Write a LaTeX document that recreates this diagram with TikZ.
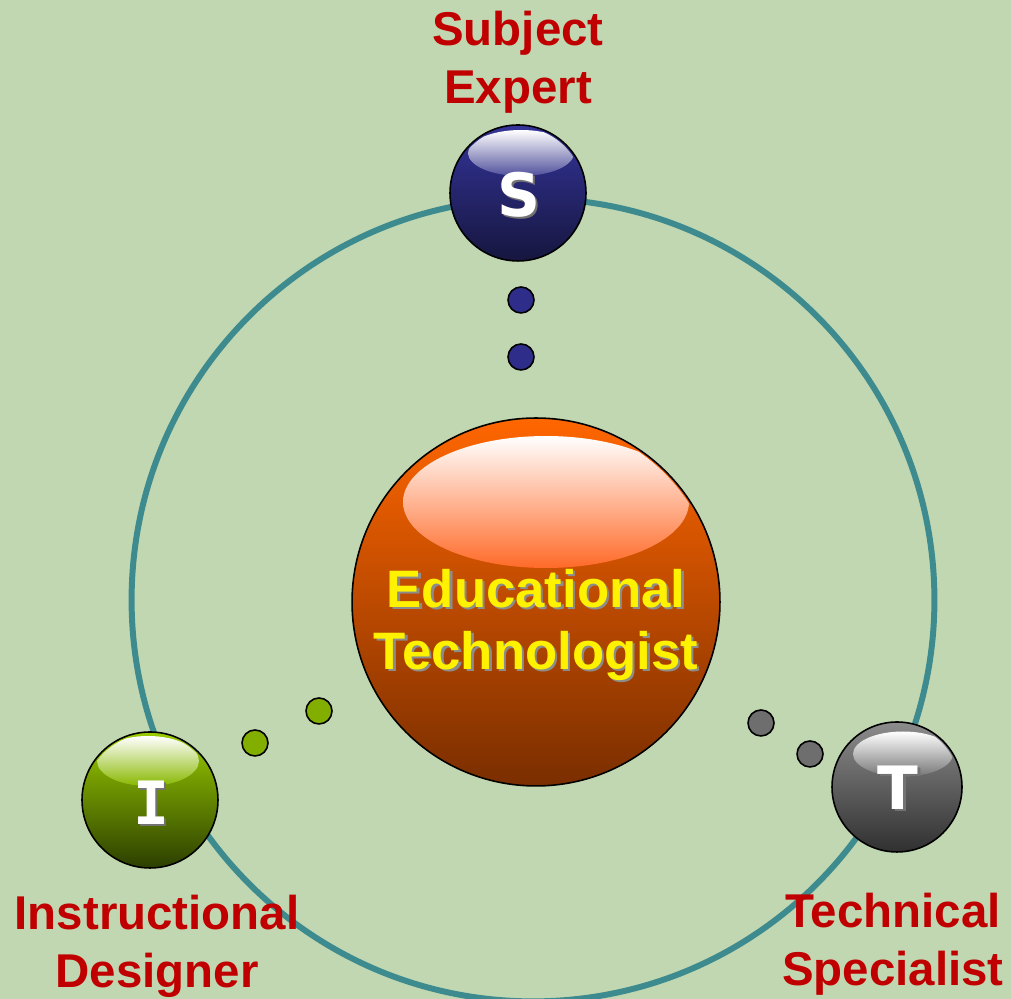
\documentclass[tikz,border=0pt]{standalone}
\usepackage{fontspec}
\setmainfont{Liberation Sans}
\newfontfamily\dvsans{DejaVu Sans}
\newfontfamily\dvmono{DejaVu Sans Mono}
\definecolor{bgcol}{HTML}{C1D7B1}
\definecolor{ringcol}{HTML}{3D8B8F}
\definecolor{labred}{HTML}{C00000}
\definecolor{etop}{HTML}{FF6600}
\definecolor{ebot}{HTML}{7A2E00}
\definecolor{ehlm}{HTML}{FFA888}
\definecolor{ehl}{HTML}{FF6A28}
\definecolor{stop}{HTML}{34349A}
\definecolor{sbot}{HTML}{16163F}
\definecolor{shlm}{HTML}{9A9AC8}
\definecolor{shl}{HTML}{50509C}
\definecolor{itop}{HTML}{9ACC00}
\definecolor{ibot}{HTML}{2C3F00}
\definecolor{ihlm}{HTML}{B8DA60}
\definecolor{ihl}{HTML}{88B800}
\definecolor{ttop}{HTML}{8C8C8C}
\definecolor{tbot}{HTML}{303030}
\definecolor{thlm}{HTML}{A8A8A8}
\definecolor{thl}{HTML}{767676}
\definecolor{sdot}{HTML}{2E2E8A}
\definecolor{idot}{HTML}{82AE00}
\definecolor{tdot}{HTML}{6E6E6E}
\newcommand{\shtxt}[2]{\makebox[0pt][l]{\kern1.4pt\raisebox{-1.4pt}{\textcolor{#2}{#1}}}#1}
\tikzset{
  sphere/.style n args={3}{circle, draw=black, line width=0.9pt, inner sep=0pt,
    minimum size=#3, top color=#1, bottom color=#2},
  hilite/.style 2 args={top color=white, middle color=#1, bottom color=#2},
  dotball/.style={circle, draw=black, line width=0.9pt, inner sep=0pt, minimum size=0.52cm, fill=#1},
  lab/.style={text=labred, align=center, font=\fontsize{27}{33}\selectfont\bfseries},
  letter/.style={text=white, inner sep=0pt, font=\fontsize{34}{40}\selectfont\bfseries},
}
\begin{document}
\begin{tikzpicture}[x=0.02cm, y=0.02cm]
\useasboundingbox (0,0) rectangle (1011,999);
\fill[bgcol] (0,0) rectangle (1011,999);
\begin{scope}
\clip (0,0) rectangle (1011,999);
\draw[ringcol, line width=3.4pt] (533,399) circle [radius=8.03cm];
\end{scope}
% central sphere
\node[sphere={etop}{ebot}{7.36cm}] (E) at (536,397) {};
\begin{scope}
\clip (E.center) circle [radius=3.64cm];
\shade[hilite={ehlm}{ehl}] ([shift={(0.2cm,2.0cm)}]E.center) ellipse [x radius=2.86cm, y radius=1.32cm];
\end{scope}
\node[text=yellow, align=center, font=\fontsize{30}{35}\selectfont\bfseries] (Etxt) at (536,373)
  {\shtxt{Educational}{black!45}\\\shtxt{Technologist}{black!45}};
% satellites
\node[sphere={stop}{sbot}{2.72cm}] (S) at (518,806) {};
\begin{scope}
\clip (S.center) circle [radius=1.32cm];
\shade[hilite={shlm}{shl}] ([shift={(0.06cm,0.8cm)}]S.center) ellipse [x radius=1.06cm, y radius=0.46cm];
\end{scope}
\node[letter] (Sl) at (519,803) {\dvsans\bfseries\shtxt{S}{black!55}};
\node[sphere={itop}{ibot}{2.72cm}] (I) at (150,199) {};
\begin{scope}
\clip (I.center) circle [radius=1.32cm];
\shade[hilite={ihlm}{ihl}] ([shift={(-0.04cm,0.78cm)}]I.center) ellipse [x radius=1.02cm, y radius=0.5cm];
\end{scope}
\node[letter] (Il) at (151,195) {\dvmono\bfseries\shtxt{I}{black!55}};
\node[sphere={ttop}{tbot}{2.6cm}] (T) at (897,212) {};
\begin{scope}
\clip (T.center) circle [radius=1.26cm];
\shade[hilite={thlm}{thl}] ([shift={(0.12cm,0.66cm)}]T.center) ellipse [x radius=1.0cm, y radius=0.45cm];
\end{scope}
\node[letter] (Tl) at (898,210) {\dvsans\bfseries\shtxt{T}{black!55}};
% small dots
\node[dotball=sdot] (s1) at (521,699) {};
\node[dotball=sdot] (s2) at (521,642) {};
\node[dotball=idot] (i1) at (255,256) {};
\node[dotball=idot] (i2) at (319,288) {};
\node[dotball=tdot] (t1) at (761,276) {};
\node[dotball=tdot] (t2) at (810,245) {};
% labels
\node[lab] (Slab) at (518,937) {Subject\\Expert};
\node[lab] (Ilab) at (157,53) {Instructional\\Designer};
\node[lab] (Tlab) at (893,55) {Technical\\Specialist};
\end{tikzpicture}
\end{document}
